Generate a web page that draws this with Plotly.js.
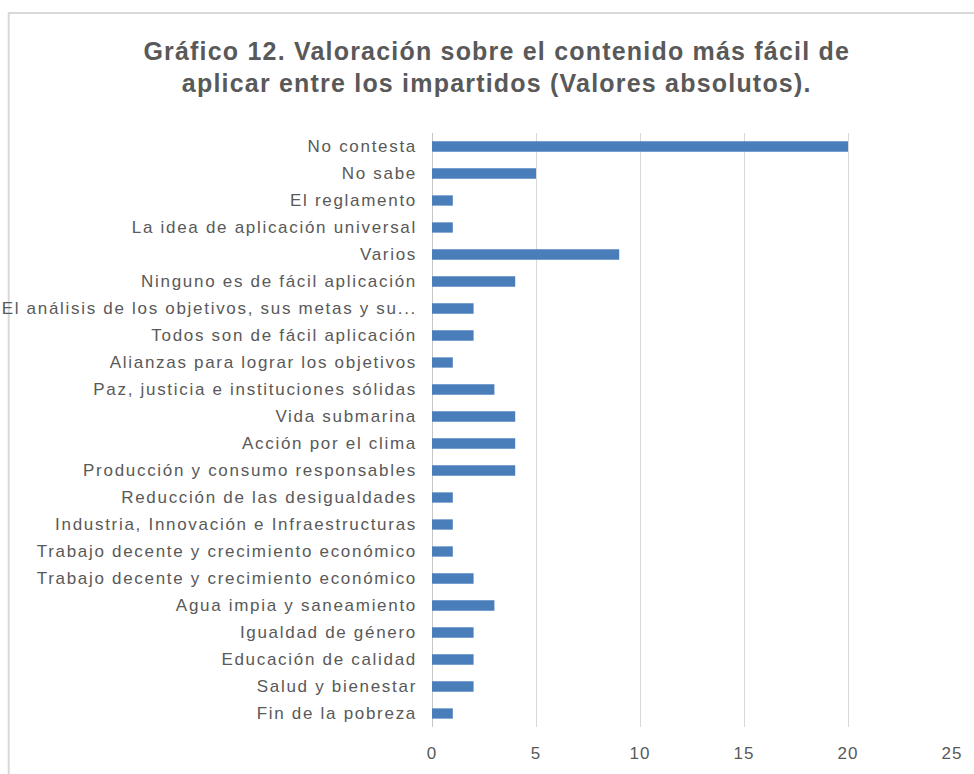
<!DOCTYPE html>
<html>
<head>
<meta charset="utf-8">
<script src="https://cdn.plot.ly/plotly-3.0.1.min.js"></script>
<style>
  body { margin: 0; background: #ffffff; }
  #plot { width: 974px; height: 774px; }
  /* the original labels are drawn rather wide */
  #plot .ytick text { letter-spacing: 1.7px; }
  #plot .xtick text { letter-spacing: 1px; }
  #plot .gtitle { letter-spacing: 1.2px; }
</style>
</head>
<body>
<div id="plot"></div>
<script>
// categories, top to bottom as in the original chart
const categorias = [
    'No contesta',
    'No sabe',
    'El reglamento',
    'La idea de aplicación universal',
    'Varios',
    'Ninguno es de fácil aplicación',
    'El análisis de los objetivos, sus metas y su...',
    'Todos son de fácil aplicación',
    'Alianzas para lograr los objetivos',
    'Paz, justicia e instituciones sólidas',
    'Vida submarina',
    'Acción por el clima',
    'Producción y consumo responsables',
    'Reducción de las desigualdades',
    'Industria, Innovación e Infraestructuras',
    'Trabajo decente y crecimiento económico',
    'Trabajo decente y crecimiento económico',
    'Agua impia y saneamiento',
    'Igualdad de género',
    'Educación de calidad',
    'Salud y bienestar',
    'Fin de la pobreza'
];

const valores = [20, 5, 1, 1, 9, 4, 2, 2, 1, 3, 4, 4, 4, 1, 1, 1, 2, 3, 2, 2, 2, 1];

const xTicks = [0, 5, 10, 15, 20, 25];

// two labels repeat, so rows go by position and the text comes from ticktext
const filas = categorias.map((c, i) => i);

const gris = '#595959';

let trace = {
    type: 'bar',
    orientation: 'h',
    x: valores,
    y: filas,
    width: 0.38,
    marker: { color: '#4a7ebb' },
    hoverinfo: 'x+text',
    text: categorias,
    textposition: 'none'
};

let layout = {
    width: 974,
    height: 774,
    margin: { l: 432, r: 22, t: 133, b: 47 },
    paper_bgcolor: '#ffffff',
    plot_bgcolor: '#ffffff',
    showlegend: false,
    title: {
        text: 'Gráfico 12. Valoración sobre el contenido más fácil de<br>aplicar entre los impartidos (Valores absolutos).',
        font: { family: 'Liberation Sans, Arial, sans-serif', size: 25, color: gris, weight: 'bold' },
        x: 0.51,
        xanchor: 'center',
        y: 0.923,
        yanchor: 'middle'
    },
    xaxis: {
        range: [0, 25],
        tickvals: xTicks,
        ticks: '',
        showgrid: true,
        gridcolor: '#d9d9d9',
        gridwidth: 1,
        zeroline: true,
        zerolinecolor: '#c6c6c6',
        zerolinewidth: 1,
        showline: false,
        tickfont: { family: 'Liberation Sans, Arial, sans-serif', size: 17, color: gris },
        ticklabelstandoff: 14
    },
    yaxis: {
        range: [21.5, -0.5],
        tickvals: filas,
        ticktext: categorias,
        ticks: '',
        showgrid: false,
        zeroline: false,
        showline: false,
        tickfont: { family: 'Liberation Sans, Arial, sans-serif', size: 17, color: gris },
        ticklabelstandoff: 14
    },
    shapes: [{
        type: 'rect',
        xref: 'paper',
        yref: 'paper',
        x0: -0.814,
        x1: 1.3,
        y0: -0.3,
        y1: 1.202,
        line: { color: '#d9d9d9', width: 2 },
        fillcolor: 'rgba(0,0,0,0)',
        layer: 'below'
    }]
};

Plotly.newPlot('plot', [trace], layout, { displayModeBar: false, staticPlot: true });
</script>
</body>
</html>
